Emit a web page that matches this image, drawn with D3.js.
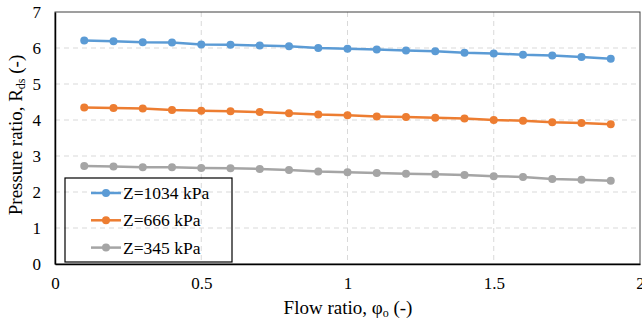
<!DOCTYPE html>
<html>
<head>
<meta charset="utf-8">
<script src="https://cdn.jsdelivr.net/npm/d3@7"></script>
<style>
  body { margin: 0; background: #fff; }
  svg text { font-family: "Liberation Serif", "Times New Roman", serif; fill: #000; }
</style>
</head>
<body>
<div class="svg-container"></div>
<script>
// flow ratio values (x)
var flowRatio = [0.1, 0.2, 0.3, 0.4, 0.5, 0.6, 0.7, 0.8, 0.9, 1.0,
                 1.1, 1.2, 1.3, 1.4, 1.5, 1.6, 1.7, 1.8, 1.9];

// pressure ratio for each Z
var z1034 = [6.21, 6.19, 6.16, 6.15, 6.10, 6.09, 6.07, 6.05, 6.00, 5.98,
             5.96, 5.93, 5.91, 5.87, 5.85, 5.81, 5.79, 5.75, 5.70];
var z666 = [4.35, 4.33, 4.32, 4.28, 4.26, 4.24, 4.22, 4.19, 4.15, 4.13,
            4.10, 4.08, 4.06, 4.04, 4.00, 3.98, 3.94, 3.92, 3.88];
var z345 = [2.72, 2.71, 2.69, 2.69, 2.67, 2.66, 2.64, 2.61, 2.57, 2.55,
            2.53, 2.51, 2.49, 2.47, 2.44, 2.42, 2.36, 2.34, 2.31];

var seriesNames = ["Z=1034 kPa", "Z=666 kPa", "Z=345 kPa"];
var xTicks = [0, 0.5, 1, 1.5, 2];
var yTicks = [0, 1, 2, 3, 4, 5, 6, 7];

var colors = ["#5b9bd5", "#ed7d31", "#a5a5a5"];
var allSeries = [z1034, z666, z345];

var W = 642, H = 326;
var margin = {top: 12, right: 2, bottom: 62, left: 55};
var width = W - margin.left - margin.right,
    height = H - margin.top - margin.bottom;
var serif = "Liberation Serif";

var svg = d3.select(".svg-container").append("svg")
  .attr("width", W)
  .attr("height", H)
  .attr("font-family", serif);

var g = svg.append("g")
  .attr("transform", "translate(" + margin.left + "," + margin.top + ")");

var x = d3.scaleLinear().domain([0, 2]).range([0, width]);
var y = d3.scaleLinear().domain([0, 7]).range([height, 0]);

// grid lines
g.selectAll(".hgrid")
  .data(yTicks.filter(function(d) { return d > 0 && d < 7; }))
  .enter().append("line")
  .attr("x1", 0).attr("x2", width)
  .attr("y1", function(d) { return y(d); })
  .attr("y2", function(d) { return y(d); })
  .attr("stroke", "#d9d9d9")
  .attr("stroke-width", 1)
  .attr("stroke-dasharray", "5,4");

g.selectAll(".vgrid")
  .data(xTicks.filter(function(d) { return d > 0 && d < 2; }))
  .enter().append("line")
  .attr("y1", 0).attr("y2", height)
  .attr("x1", function(d) { return x(d); })
  .attr("x2", function(d) { return x(d); })
  .attr("stroke", "#d9d9d9")
  .attr("stroke-width", 1)
  .attr("stroke-dasharray", "5,4");

// frame
g.append("rect")
  .attr("x", 0).attr("y", 0)
  .attr("width", width).attr("height", height)
  .attr("fill", "none")
  .attr("stroke", "#404040")
  .attr("stroke-width", 1);

// axes
var xAxis = g.append("g")
  .attr("transform", "translate(0," + height + ")")
  .call(d3.axisBottom(x).tickValues(xTicks).tickSize(0).tickPadding(13)
    .tickFormat(function(d) { return d; }));
xAxis.attr("font-family", serif).attr("font-size", 17);
xAxis.select(".domain").attr("stroke", "#000").attr("stroke-width", 1.5);

var yAxis = g.append("g")
  .call(d3.axisLeft(y).tickValues(yTicks).tickSize(0).tickPadding(14)
    .tickFormat(d3.format("d")));
yAxis.attr("font-family", serif).attr("font-size", 17);
yAxis.select(".domain").attr("stroke", "#000").attr("stroke-width", 1.5);

// lines and points
var line = d3.line()
  .x(function(d, i) { return x(flowRatio[i]); })
  .y(function(d) { return y(d); });

allSeries.forEach(function(s, k) {
  g.append("path")
    .datum(s)
    .attr("d", line)
    .attr("fill", "none")
    .attr("stroke", colors[k])
    .attr("stroke-width", 2.5);

  g.selectAll(".pt" + k)
    .data(s)
    .enter().append("circle")
    .attr("cx", function(d, i) { return x(flowRatio[i]); })
    .attr("cy", function(d) { return y(d); })
    .attr("r", 4)
    .attr("fill", colors[k]);
});

// legend
var legend = svg.append("g");
legend.append("rect")
  .attr("x", 65).attr("y", 178)
  .attr("width", 167).attr("height", 84)
  .attr("fill", "none")
  .attr("stroke", "#000")
  .attr("stroke-width", 1.2);

seriesNames.forEach(function(name, k) {
  var ly = 193 + k * 27.3;
  legend.append("line")
    .attr("x1", 91).attr("x2", 121)
    .attr("y1", ly).attr("y2", ly)
    .attr("stroke", colors[k])
    .attr("stroke-width", 2.5);
  legend.append("circle")
    .attr("cx", 106).attr("cy", ly).attr("r", 4)
    .attr("fill", colors[k]);
  legend.append("text")
    .attr("x", 123).attr("y", ly)
    .attr("dy", "0.35em")
    .attr("font-size", 17.5)
    .text(name);
});

// x axis title
svg.append("text")
  .attr("x", 348).attr("y", 314)
  .attr("text-anchor", "middle")
  .attr("font-size", 19)
  .html("Flow ratio, φ<tspan baseline-shift='-25%' font-size='12px'>o</tspan> (-)");

// y axis title
svg.append("text")
  .attr("transform", "translate(22,135) rotate(-90)")
  .attr("text-anchor", "middle")
  .attr("font-size", 19)
  .html("Pressure ratio, R<tspan baseline-shift='-25%' font-size='12px'>ds</tspan> (-)");
</script>
</body>
</html>
